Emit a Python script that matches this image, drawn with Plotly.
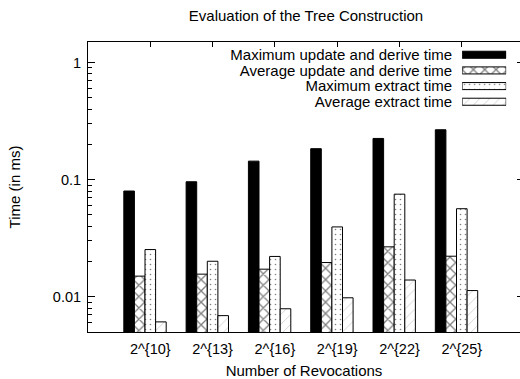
import plotly.graph_objects as go

# Data: timing results (ms) per number of revocations
categories = ["2^{10}", "2^{13}", "2^{16}", "2^{19}", "2^{22}", "2^{25}"]
max_update = [0.080, 0.096, 0.144, 0.184, 0.225, 0.267]
avg_update = [0.0150, 0.0156, 0.0172, 0.0196, 0.0267, 0.0222]
max_extract = [0.0253, 0.0201, 0.0221, 0.0395, 0.0752, 0.0565]
avg_extract = [0.0061, 0.0069, 0.0079, 0.0098, 0.0139, 0.0113]

series_names = [
    "Maximum update and derive time",
    "Average update and derive time",
    "Maximum extract time",
    "Average extract time",
]
series_values = [max_update, avg_update, max_extract, avg_extract]

FONT = "Liberation Sans, Arial, Helvetica, sans-serif"
BAR_W = 0.17
offsets = [-0.425, -0.255, -0.085, 0.085]
patterns = [
    dict(shape=""),
    dict(shape="x", fgcolor="black", bgcolor="white", size=8, solidity=0.3),
    dict(shape=".", fgcolor="black", bgcolor="white", size=5, solidity=0.08),
    dict(shape="/", fgcolor="#888888", bgcolor="white", size=7, solidity=0.1),
]
fills = ["black", "white", "white", "white"]

xpos = list(range(len(categories)))

fig = go.Figure()
for name, vals, off, pat, fc in zip(series_names, series_values, offsets, patterns, fills):
    fig.add_trace(go.Bar(
        x=xpos, y=vals, name=name, width=BAR_W, offset=off,
        marker=dict(color=fc, line=dict(color="black", width=1), pattern=pat),
        showlegend=False, xaxis="x", yaxis="y",
    ))

# Key: one swatch per series on a small hidden subplot, labels on the left
for name, pat, fc in zip(series_names, patterns, fills):
    fig.add_trace(go.Bar(
        x=[1], y=[name], orientation="h", width=0.45, base=0,
        marker=dict(color=fc, line=dict(color="black", width=1), pattern=pat),
        showlegend=False, xaxis="x3", yaxis="y3", hoverinfo="skip",
    ))

xrange = [-1, -1 + (520 - 88) / 62.3]
yrange = [-2.301, 0.176]

fig.update_layout(
    width=520, height=379,
    margin=dict(l=88, r=0, t=42, b=45),
    paper_bgcolor="white", plot_bgcolor="white",
    font=dict(family=FONT, size=15, color="black"),
    barmode="overlay",
    title=dict(text="Evaluation of the Tree Construction", xref="container", x=306 / 520,
               xanchor="center", yref="container", y=1 - 16 / 379, yanchor="middle",
               font=dict(size=15)),
    xaxis=dict(
        range=xrange, tickvals=xpos, ticktext=categories, ticks="",
        showline=True, linecolor="black", linewidth=1, showgrid=False, zeroline=False,
        tickfont=dict(size=14.5), ticklabelstandoff=4,
        title=dict(text="Number of Revocations", standoff=11, font=dict(size=15)),
    ),
    xaxis2=dict(
        range=xrange, tickvals=xpos, overlaying="x", side="top", anchor="y",
        ticks="inside", ticklen=5, tickcolor="black", showticklabels=False,
        showline=True, linecolor="black", linewidth=1, showgrid=False, zeroline=False,
    ),
    yaxis=dict(
        type="log", range=yrange, tickvals=[0.01, 0.1, 1], ticktext=["0.01", "0.1", "1"],
        ticks="inside", ticklen=7, tickcolor="black", showline=True, linecolor="black",
        linewidth=1, showgrid=False, zeroline=False, tickfont=dict(size=14.5),
        ticklabelstandoff=3,
        minor=dict(ticks="inside", ticklen=4, tickcolor="black", dtick="D1", showgrid=False),
        title=dict(text="Time (in ms)", standoff=28, font=dict(size=15)),
    ),
    yaxis2=dict(
        type="log", range=yrange, overlaying="y", side="right", anchor="x",
        tickvals=[0.01, 0.1, 1], ticks="inside", ticklen=3, tickcolor="black",
        showticklabels=False, showline=False, showgrid=False, zeroline=False,
    ),
    xaxis3=dict(domain=[0.866, 0.968], range=[0, 1], visible=False, anchor="y3"),
    yaxis3=dict(
        domain=[0.767, 0.983], range=[3.5, -0.5], anchor="x3",
        tickmode="array", tickvals=series_names, ticktext=series_names,
        showline=False, showgrid=False, zeroline=False, ticks="",
        tickfont=dict(size=15), ticklabelstandoff=9,
    ),
)

# x2 carries the top ticks; attach a dummy invisible trace so the axis is drawn
fig.add_trace(go.Scatter(x=[None], y=[None], xaxis="x2", yaxis="y2", showlegend=False,
                         hoverinfo="skip"))

fig.write_html("out.html")
